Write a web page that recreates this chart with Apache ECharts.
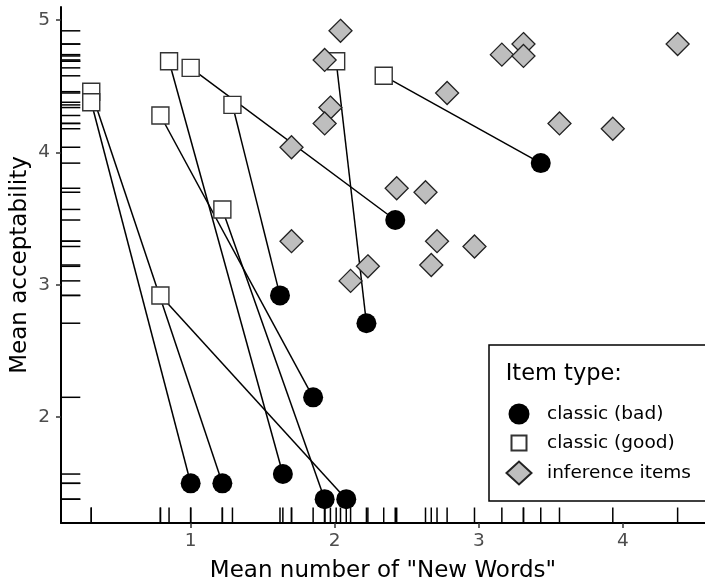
<!DOCTYPE html>
<html><head><meta charset="utf-8">
<script src="https://cdn.jsdelivr.net/npm/echarts@6/dist/echarts.min.js"></script>
<style>html,body{margin:0;padding:0;background:#fff}#c{width:705px;height:584px}</style>
</head><body><div id="c"></div>
<script>
// Paired classic items: good version -> bad version
const goodX = [0.31, 0.31, 0.85, 1.00, 0.79, 1.29, 1.22, 0.79, 2.01, 2.34];
const goodY = [4.46, 4.38, 4.69, 4.64, 4.28, 4.36, 3.57, 2.92, 4.69, 4.58];
const badX  = [1.22, 1.00, 1.64, 2.42, 1.85, 1.62, 1.93, 2.08, 2.22, 3.43];
const badY  = [1.50, 1.50, 1.57, 3.49, 2.15, 2.92, 1.38, 1.38, 2.71, 3.92];
// Inference items
const infX = [2.04, 1.93, 1.97, 1.93, 1.70, 1.70, 2.11, 2.23, 3.16, 3.31, 3.31, 4.38, 2.78, 3.56, 3.93, 2.43, 2.63, 2.71, 2.97, 2.67];
const infY = [4.92, 4.70, 4.34, 4.22, 4.04, 3.33, 3.03, 3.14, 4.74, 4.82, 4.73, 4.82, 4.45, 4.22, 4.18, 3.73, 3.70, 3.33, 3.29, 3.15];
// Tick labels
const xTicks = [1, 2, 3, 4];
const yTicks = [2, 3, 4, 5];
const seriesNames = ['classic (bad)', 'classic (good)', 'inference items'];

const X_MIN = 0.1, X_MAX = 4.57, Y_MIN = 1.2, Y_MAX = 5.1;
const FONT = 'DejaVu Sans';

const allX = goodX.concat(badX, infX);
const allY = goodY.concat(badY, infY);
const segs = goodX.map((x, i) => ({ coords: [[x, goodY[i]], [badX[i], badY[i]]] }));

const chart = echarts.init(document.getElementById('c'), null, { renderer: 'canvas' });

const axisCommon = {
  type: 'value',
  nameLocation: 'middle',
  nameMoveOverlap: false,
  nameTextStyle: { fontFamily: FONT, fontSize: 23, color: '#000' },
  axisLine: { show: true, onZero: false, lineStyle: { color: '#000', width: 2 } },
  splitLine: { show: false }
};

const option = {
  animation: false,
  backgroundColor: '#fff',
  grid: { left: 61, right: 0, top: 7, bottom: 61, outerBoundsMode: 'none' },
  xAxis: Object.assign({}, axisCommon, {
    min: X_MIN, max: X_MAX,
    name: 'Mean number of "New Words"', nameGap: 37,
    axisTick: { show: true, customValues: xTicks, length: 5, lineStyle: { color: '#333', width: 1.5 } },
    axisLabel: { customValues: xTicks, margin: 9, fontFamily: FONT, fontSize: 18.5, color: '#4d4d4d' }
  }),
  yAxis: Object.assign({}, axisCommon, {
    min: Y_MIN, max: Y_MAX,
    name: 'Mean acceptability', nameGap: 29, nameRotate: 90,
    axisTick: { show: true, customValues: yTicks, length: 5, lineStyle: { color: '#333', width: 1.5 } },
    axisLabel: { customValues: yTicks, margin: 11, fontFamily: FONT, fontSize: 18.5, color: '#4d4d4d' }
  }),
  legend: {
    orient: 'vertical', left: 489, top: 345,
    padding: [56, 60, 14, 16],
    itemWidth: 46, itemHeight: 26, itemGap: 2,
    borderColor: '#000', borderWidth: 1.5, backgroundColor: '#fff',
    selectedMode: false,
    textStyle: { fontFamily: FONT, fontSize: 18.5, color: '#000' },
    data: [
      { name: seriesNames[0], icon: 'path://M0 0 M26 26 M23.5 13 A10.5 10.5 0 1 1 2.5 13 A10.5 10.5 0 1 1 23.5 13 Z' },
      { name: seriesNames[1], icon: 'path://M0 0 M26 26 M5.5 5.5 L20.5 5.5 L20.5 20.5 L5.5 20.5 Z' },
      { name: seriesNames[2], icon: 'path://M0 0 M26 26 M0.5 13 L13 1.5 L25.5 13 L13 24.5 Z' }
    ]
  },
  graphic: [{
    type: 'text', x: 505.7, y: 374, z: 100, silent: true,
    style: { text: 'Item type:', fontFamily: FONT, fontSize: 22.5, fill: '#000', align: 'left', verticalAlign: 'middle' }
  }],
  series: [
    {
      type: 'lines', coordinateSystem: 'cartesian2d', data: segs, silent: true, z: 1,
      lineStyle: { color: '#000', width: 1.5, opacity: 1, curveness: 0 }
    },
    {
      type: 'custom', name: 'rugX', silent: true, z: 2,
      data: allX.map(v => [v, Y_MIN]),
      renderItem: function (params, api) {
        const p = api.coord([api.value(0), Y_MIN]);
        return { type: 'line', shape: { x1: p[0], y1: p[1], x2: p[0], y2: p[1] - 15.5 }, style: { stroke: '#000', lineWidth: 1.5 } };
      }
    },
    {
      type: 'custom', name: 'rugY', silent: true, z: 2,
      data: allY.map(v => [X_MIN, v]),
      renderItem: function (params, api) {
        const p = api.coord([X_MIN, api.value(1)]);
        return { type: 'line', shape: { x1: p[0], y1: p[1], x2: p[0] + 19.3, y2: p[1] }, style: { stroke: '#000', lineWidth: 1.5 } };
      }
    },
    {
      type: 'scatter', name: seriesNames[0], z: 3,
      data: badX.map((x, i) => [x, badY[i]]),
      symbol: 'circle', symbolSize: 20,
      itemStyle: { color: '#000', opacity: 1 }
    },
    {
      type: 'scatter', name: seriesNames[1], z: 4,
      data: goodX.map((x, i) => [x, goodY[i]]),
      symbol: 'rect', symbolSize: 17,
      itemStyle: { color: '#fff', borderColor: '#333', borderWidth: 1.4, opacity: 1 }
    },
    {
      type: 'scatter', name: seriesNames[2], z: 5,
      data: infX.map((x, i) => [x, infY[i]]),
      symbol: 'diamond', symbolSize: 23,
      itemStyle: { color: '#bebebe', borderColor: '#222', borderWidth: 1.3, opacity: 1 }
    }
  ]
};
chart.setOption(option);
</script>
</body></html>
